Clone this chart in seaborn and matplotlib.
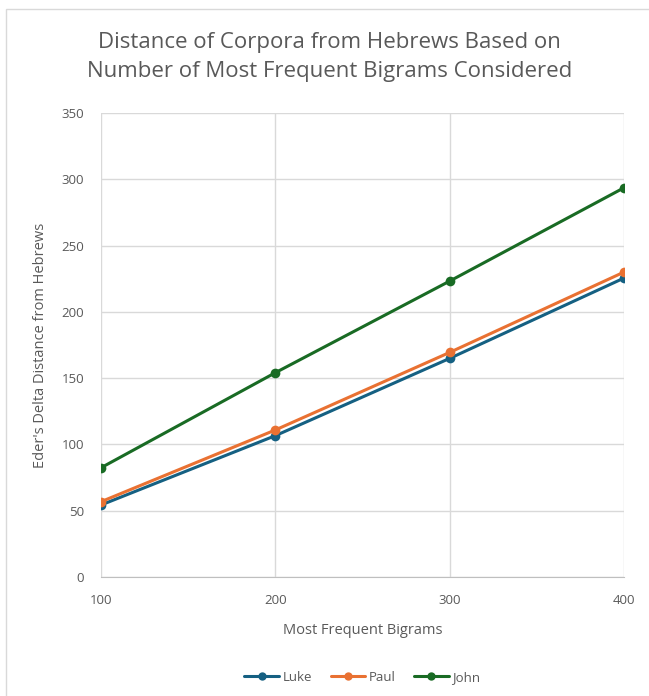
import pandas as pd
import matplotlib
matplotlib.use("Agg")
import matplotlib.pyplot as plt
import seaborn as sns
from matplotlib.patches import Rectangle

bigrams = [100, 200, 300, 400]
luke = [54.3, 106.6, 164.9, 225.5]
paul = [56.8, 110.9, 169.4, 230.0]
john = [82.4, 154.1, 223.2, 293.6]
series = ["Luke", "Paul", "John"]
colors = ["#156082", "#E97132", "#196B24"]

df = pd.DataFrame({
    "bigrams": bigrams * 3,
    "delta": luke + paul + john,
    "corpus": [s for s in series for _ in bigrams],
})

sns.set_style("whitegrid")
plt.rcParams["font.family"] = ["Open Sans", "DejaVu Sans"]
GREY = "#595959"

fig = plt.figure(figsize=(6.49, 6.96), dpi=100)
fig.patches.append(Rectangle((6 / 649, -0.01), 1.0, 1 - 9 / 696 + 0.01, transform=fig.transFigure,
                             fill=False, edgecolor="#d9d9d9", linewidth=1))
ax = fig.add_axes([101 / 649, 1 - 577 / 696, 523 / 649, 464 / 696])

sns.lineplot(data=df, x="bigrams", y="delta", hue="corpus", palette=colors,
             marker="o", markersize=7, markeredgewidth=0, linewidth=2.2, ax=ax)

ax.set_xlim(100, 400)
ax.set_ylim(0, 350)
ax.set_xticks(bigrams)
ax.set_yticks(range(0, 351, 50))
ax.grid(True, color="#d9d9d9", linewidth=1)
for s in ["left", "right", "top"]:
    ax.spines[s].set_visible(False)
ax.spines["bottom"].set_color("#bfbfbf")
ax.tick_params(axis="both", length=0, labelsize=9.5, colors=GREY)
ax.tick_params(axis="x", pad=12)
ax.tick_params(axis="y", pad=12)
ax.set_xlabel("Most Frequent Bigrams", fontsize=10.5, color=GREY, labelpad=12)
ax.set_ylabel("Eder's Delta Distance from Hebrews", fontsize=10.5, color=GREY, labelpad=10)

fig.text(0.508, 1 - 57 / 696, "Distance of Corpora from Hebrews Based on\nNumber of Most Frequent Bigrams Considered",
         ha="center", va="center", fontsize=16, color=GREY, linespacing=1.5)

handles, labels = ax.get_legend_handles_labels()
for h in handles:
    h.set_markersize(6)
ax.legend(handles, labels, loc="center", bbox_to_anchor=(0.5, -0.216), ncol=3, frameon=False,
          fontsize=9.5, labelcolor=GREY, handlelength=2.6, columnspacing=1.4, handletextpad=0.3)

fig.savefig("out.png", dpi=100)
